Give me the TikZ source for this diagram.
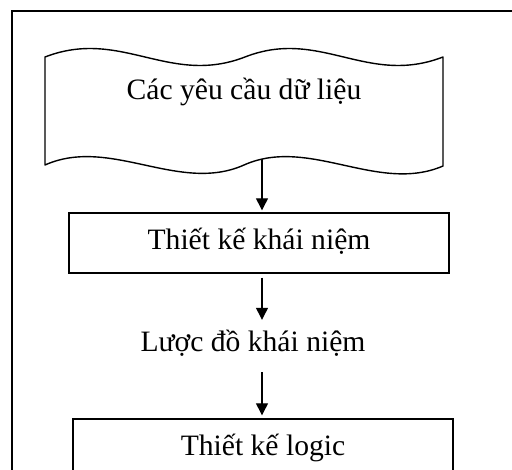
\documentclass[tikz,border=0pt]{standalone}
\usepackage{fontspec}
\setmainfont{Liberation Serif}
\usetikzlibrary{arrows.meta}
\begin{document}
\begin{tikzpicture}[x=1pt,y=-1pt,
  lbl/.style={font=\fontsize{29.6}{34}\selectfont, inner sep=0pt},
  boxnode/.style={draw, line width=1.4pt, minimum width=380pt, minimum height=60pt,
    inner sep=0pt, text height=20pt, text depth=6pt, font=\fontsize{29.6}{34}\selectfont},
  arr/.style={line width=1.3pt, -{Triangle[length=12pt,width=12pt]}}]
\path[fill=white] (0,0) rectangle (512,470);
\useasboundingbox (0,0) rectangle (512,470);
\begin{scope}
\clip (0,0) rectangle (512,470);
% outer frame (cut off at right and bottom)
\draw[line width=2pt] (11.5,470) -- (11.5,11.5) -- (512,11.5);
% wave shape
\draw[line width=1.4pt, line join=round]
  (45,57) .. controls (121,27.6) and (169,86.4) .. (245,57)
          .. controls (320,27.6) and (367,86.4) .. (443,57)
  -- (443,166)
          .. controls (378,194) and (309,136) .. (244,165)
          .. controls (179,194) and (110,136) .. (45,165)
  -- cycle;
\node[lbl, anchor=base] (req) at (244,100) {Các yêu cầu dữ liệu};
\coordinate (wavebot) at (262,159);
% boxes and labels
\node[boxnode] (concept) at (259,243) {Thiết kế khái niệm};
\node[lbl, anchor=base, text height=32pt, text depth=20pt] (schema) at (253,352) {Lược đồ khái niệm};
\node[boxnode] (logic) at (263,449) {Thiết kế logic};
% connectors
\draw[arr, shorten >=2pt] (wavebot) -- (wavebot |- concept.north);
\draw[arr, shorten <=4pt] ([xshift=3pt]concept.south) -- ([xshift=3pt]concept.south |- schema.north);
\draw[arr, shorten >=3pt] ([xshift=3pt]concept.south |- schema.south) -- ([xshift=-1pt]logic.north);
\end{scope}
\end{tikzpicture}
\end{document}
